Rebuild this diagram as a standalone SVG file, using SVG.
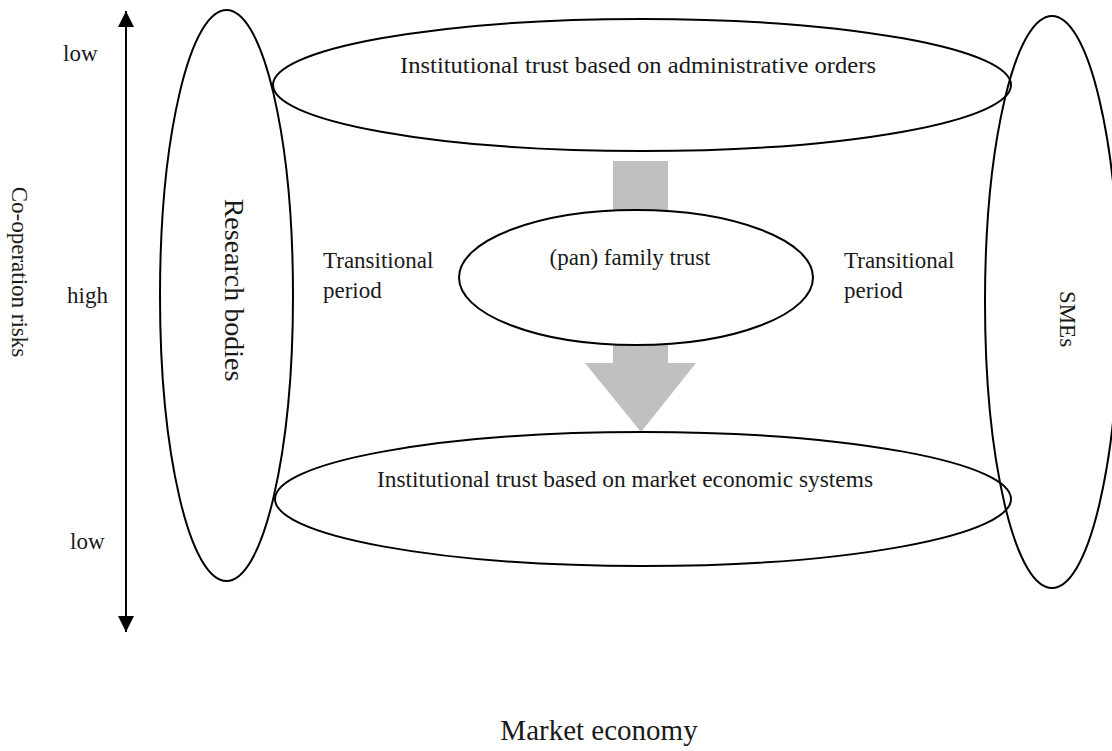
<svg xmlns="http://www.w3.org/2000/svg" width="1112" height="751" viewBox="0 0 1112 751">
<style>
  .ell { fill: none; stroke: #000; stroke-width: 2; }
  .ellw { fill: #fff; stroke: #000; stroke-width: 2; }
  .t { font-family: "Liberation Serif", "Times New Roman", serif; font-size: 23px; fill: #1a1a1a; }
  .big { font-size: 28px; }
  .gray { fill: #c0c0c0; stroke: none; }
</style>
<defs>
  <marker id="ah" viewBox="0 0 16 16" refX="16" refY="8" markerWidth="16" markerHeight="16" markerUnits="userSpaceOnUse" orient="auto-start-reverse">
    <path d="M0,0 L16,8 L0,16 Z" fill="#000"/>
  </marker>
</defs>
<rect width="1112" height="751" fill="#fff"/>

<g id="axis">
  <line x1="126" y1="11" x2="126" y2="632" stroke="#000" stroke-width="2" marker-start="url(#ah)" marker-end="url(#ah)"/>
  <text class="t" transform="translate(12,272) rotate(90)" text-anchor="middle">Co-operation risks</text>
  <text class="t" x="63" y="61">low</text>
  <text class="t" x="67" y="303">high</text>
  <text class="t" x="70" y="549">low</text>
</g>

<g id="connectors">
  <rect class="gray" x="613" y="161" width="55" height="60"/>
  <polygon class="gray" points="613,330 668,330 668,363 696,363 641,432 585,363 613,363"/>
</g>

<g id="research-bodies">
  <ellipse class="ell" cx="226.5" cy="295.5" rx="66.5" ry="285.5"/>
  <text class="t big" transform="translate(225,290) rotate(90)" text-anchor="middle">Research bodies</text>
</g>

<g id="smes">
  <ellipse class="ell" cx="1052" cy="302" rx="67" ry="286"/>
  <text class="t" transform="translate(1060,319) rotate(90)" text-anchor="middle">SMEs</text>
</g>

<g id="top-trust">
  <ellipse class="ell" cx="642" cy="85" rx="369" ry="66"/>
  <text class="t" x="400" y="73" textLength="476" lengthAdjust="spacingAndGlyphs">Institutional trust based on administrative orders</text>
</g>

<g id="family-trust">
  <ellipse class="ellw" cx="636" cy="277.5" rx="177" ry="67.5"/>
  <text class="t" x="630" y="265" text-anchor="middle">(pan) family trust</text>
</g>

<g id="bottom-trust">
  <ellipse class="ell" cx="643" cy="499" rx="368" ry="67"/>
  <text class="t" x="377" y="487" textLength="496" lengthAdjust="spacingAndGlyphs">Institutional trust based on market economic systems</text>
</g>

<g id="transitional-left">
  <text class="t" x="323" y="268">Transitional</text>
  <text class="t" x="323" y="298">period</text>
</g>

<g id="transitional-right">
  <text class="t" x="844" y="268">Transitional</text>
  <text class="t" x="844" y="298">period</text>
</g>

<g id="market-economy">
  <text class="t" x="599" y="740" text-anchor="middle" style="font-size:29px">Market economy</text>
</g>
</svg>
